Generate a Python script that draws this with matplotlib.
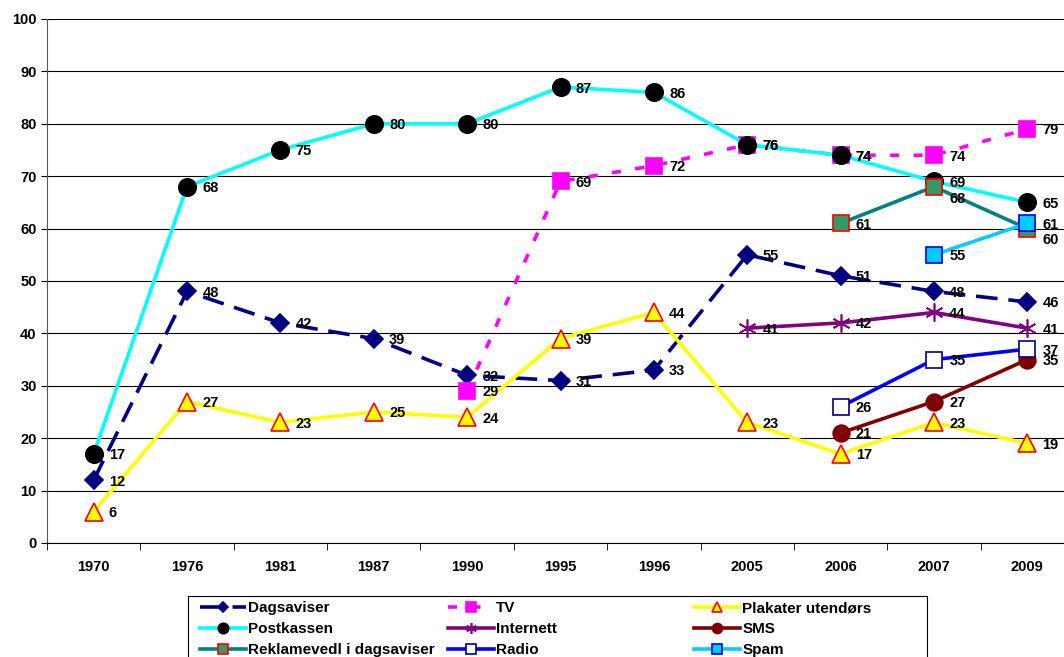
import numpy as np
import matplotlib
matplotlib.use("Agg")
from matplotlib import pyplot as plt
from matplotlib.patches import Rectangle

plt.rcParams['font.family'] = ['Liberation Sans', 'DejaVu Sans']
plt.rcParams['font.weight'] = 'bold'

years = ['1970', '1976', '1981', '1987', '1990', '1995', '1996', '2005', '2006', '2007', '2009']
nan = np.nan

dagsaviser = [12, 48, 42, 39, 32, 31, 33, 55, 51, 48, 46]
tv = [nan, nan, nan, nan, 29, 69, 72, 76, 74, 74, 79]
plakater = [6, 27, 23, 25, 24, 39, 44, 23, 17, 23, 19]
postkassen = [17, 68, 75, 80, 80, 87, 86, 76, 74, 69, 65]
internett = [nan, nan, nan, nan, nan, nan, nan, 41, 42, 44, 41]
sms = [nan, nan, nan, nan, nan, nan, nan, nan, 21, 27, 35]
reklame = [nan, nan, nan, nan, nan, nan, nan, nan, 61, 68, 60]
radio = [nan, nan, nan, nan, nan, nan, nan, nan, 26, 35, 37]
spam = [nan, nan, nan, nan, nan, nan, nan, nan, nan, 55, 61]

# name, values, line colour, marker, face, edge, marker size, dashes
series = [
    ('Dagsaviser', dagsaviser, '#000080', 'D', '#000080', '#000080', 9, (6, 3)),
    ('TV', tv, '#ff00ff', 's', '#ff00ff', '#ff00ff', 12, (2.5, 4)),
    ('Plakater utendørs', plakater, '#ffff00', '^', '#ffff00', '#ff0000', 13, None),
    ('Postkassen', postkassen, '#00ffff', 'o', '#000000', '#000000', 12.5, None),
    ('Internett', internett, '#800080', (6, 2, 0), '#800080', '#800080', 13, None),
    ('SMS', sms, '#800000', 'o', '#800000', '#800000', 12, None),
    ('Reklamevedl i dagsaviser', reklame, '#008080', 's', '#339966', '#ff0000', 12, None),
    ('Radio', radio, '#0000ff', 's', '#ffffff', '#000080', 12, None),
    ('Spam', spam, '#00ccff', 's', '#00ccff', '#0000ff', 12, None),
]

# label nudges (points) where labels were moved in the original
nudge = {('Reklamevedl i dagsaviser', 9): -9, ('Reklamevedl i dagsaviser', 10): -8}

fig = plt.figure(figsize=(10.64, 6.57), dpi=100)
ax = fig.add_axes([47/1064, 114/657, 1027/1064, 524/657])
x = np.arange(len(years))

handles = {}
for name, vals, lc, mk, fc, ec, ms, dash in series:
    kw = dict(color=lc, lw=2.6, marker=mk, markerfacecolor=fc, markeredgecolor=ec,
              markersize=ms, markeredgewidth=1.2)
    if dash is not None:
        kw['dashes'] = dash
    line, = ax.plot(x, vals, **kw)
    handles[name] = line
    for i, v in enumerate(vals):
        if np.isnan(v):
            continue
        ax.annotate(str(v), (x[i], v), xytext=(11, nudge.get((name, i), -1)),
                    textcoords='offset points', ha='left', va='center',
                    fontsize=10.5, fontweight='bold', color='black', zorder=10)

ax.set_xlim(-0.5, len(years) - 0.5)
ax.set_ylim(0, 100)
ax.set_yticks(np.arange(0, 101, 10))
ax.set_xticks(x)
ax.set_xticklabels(years, fontsize=10.5, fontweight='bold')
ax.set_xticks(np.arange(-0.5, len(years), 1), minor=True)
ax.tick_params(axis='x', which='major', length=0, pad=12)
ax.tick_params(axis='x', which='minor', length=5, direction='out', color='black')
ax.tick_params(axis='y', length=4, labelsize=10.5, colors='black')
for lbl in ax.get_yticklabels():
    lbl.set_fontweight('bold')
ax.yaxis.grid(True, color='black', lw=0.8)
ax.set_axisbelow(True)
for s in ['top', 'right']:
    ax.spines[s].set_visible(False)
ax.spines['left'].set_color('#555555')
ax.spines['bottom'].set_color('black')

# legend: box with three columns
fig.patches.append(Rectangle((188/1064, -0.02), (927-188)/1064, (657-596)/657 + 0.02,
                             transform=fig.transFigure, facecolor='white',
                             edgecolor='black', lw=0.8))
cols = [['Dagsaviser', 'Postkassen', 'Reklamevedl i dagsaviser'],
        ['TV', 'Internett', 'Radio'],
        ['Plakater utendørs', 'SMS', 'Spam']]
xpos = [194, 442, 688]
for names, xp in zip(cols, xpos):
    leg = fig.legend([handles[n] for n in names], names, loc='upper left',
                     bbox_to_anchor=(xp/1064, 1 - 595/657), frameon=False,
                     handlelength=3.0, handletextpad=0.15,
                     labelspacing=0.45, markerscale=0.6, borderaxespad=0,
                     prop={'weight': 'bold', 'size': 11})

fig.savefig('out.png', dpi=100)
